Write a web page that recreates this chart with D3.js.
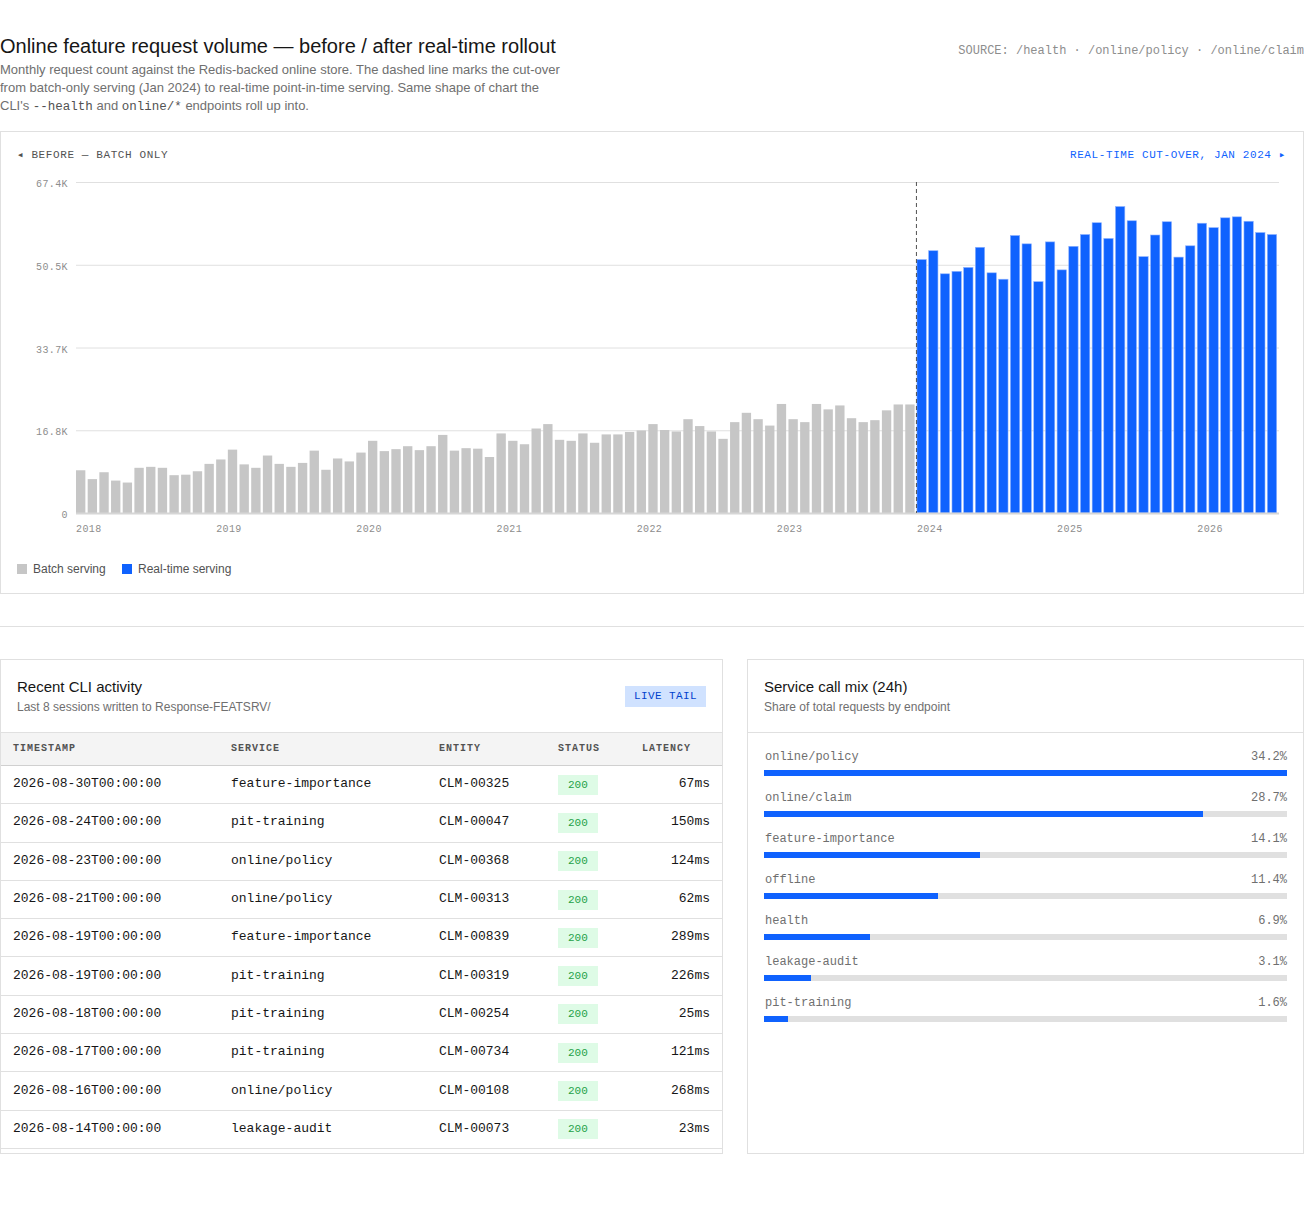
<!DOCTYPE html>
<html>
<head>
<meta charset="utf-8">
<script src="https://cdn.jsdelivr.net/npm/d3@7"></script>
<style>
  body { margin: 0; background: #fff; font-family: "Liberation Sans", Arial, sans-serif; color: #161616; }
  #page { position: relative; width: 1304px; height: 1219px; overflow: hidden; }
  .mono { font-family: "Liberation Mono", monospace; }
  .abs { position: absolute; }
  .panel { position: absolute; box-sizing: border-box; border: 1px solid #e0e0e0; background: #fff; overflow: hidden; }
  .phead { box-sizing: border-box; height: 73px; border-bottom: 1px solid #e0e0e0; position: relative; }
  .ptitle { position: absolute; left: 16px; top: 17px; font-size: 15px; line-height: 20px; }
  .psub { position: absolute; left: 16px; top: 39px; font-size: 12px; line-height: 16px; color: #6f6f6f; }
  .trow { display: flex; box-sizing: border-box; align-items: center; border-bottom: 1px solid #e0e0e0; }
  .trow > div { box-sizing: border-box; padding: 0 12px; white-space: nowrap; }
</style>
</head>
<body>
<div id="page"></div>
<script>
// ---- data ----
const batchValues = [
  8700, 6900, 8300, 6600, 6200, 9200, 9400, 9200, 7700, 7800, 8500, 10000,
  10900, 12900, 9900, 9200, 11700, 10000, 9400, 10200, 12700, 8800, 11100, 10500,
  12300, 14700, 12600, 13000, 13600, 12800, 13600, 15900, 12700, 13200, 13100, 11400,
  16200, 14700, 14000, 17200, 18100, 14900, 14700, 16200, 14300, 16000, 16000, 16500,
  16800, 18100, 16900, 16600, 19100, 17700, 16600, 15100, 18500, 20400, 19100, 17800,
  22200, 19100, 18500, 22200, 21100, 21900, 19300, 18500, 18900, 20900, 22100, 22100
];
const realtimeValues = [
  51600, 53400, 48700, 49200, 50000, 54100, 48900, 47600, 56500, 54800, 47100, 55200,
  49500, 54300, 56700, 59100, 55900, 62400, 59500, 52200, 56600, 59300, 52100, 54400,
  59000, 58100, 60100, 60300, 59400, 57100, 56700
];
const yearLabels = ["2018", "2019", "2020", "2021", "2022", "2023", "2024", "2025", "2026"];
const cutoverKey = "2024-01";
const seriesNames = ["Batch serving", "Real-time serving"];

const logRows = [
  ["2026-08-30T00:00:00", "feature-importance", "CLM-00325", "200", "67ms"],
  ["2026-08-24T00:00:00", "pit-training", "CLM-00047", "200", "150ms"],
  ["2026-08-23T00:00:00", "online/policy", "CLM-00368", "200", "124ms"],
  ["2026-08-21T00:00:00", "online/policy", "CLM-00313", "200", "62ms"],
  ["2026-08-19T00:00:00", "feature-importance", "CLM-00839", "200", "289ms"],
  ["2026-08-19T00:00:00", "pit-training", "CLM-00319", "200", "226ms"],
  ["2026-08-18T00:00:00", "pit-training", "CLM-00254", "200", "25ms"],
  ["2026-08-17T00:00:00", "pit-training", "CLM-00734", "200", "121ms"],
  ["2026-08-16T00:00:00", "online/policy", "CLM-00108", "200", "268ms"],
  ["2026-08-14T00:00:00", "leakage-audit", "CLM-00073", "200", "23ms"]
];
const logColumns = ["TIMESTAMP", "SERVICE", "ENTITY", "STATUS", "LATENCY"];

const mixNames = ["online/policy", "online/claim", "feature-importance", "offline", "health", "leakage-audit", "pit-training"];
const mixShares = [34.2, 28.7, 14.1, 11.4, 6.9, 3.1, 1.6];

// ---- colours ----
const BLUE = "#0f62fe";
const GREY = "#c6c6c6";

const page = d3.select("#page");

// ---- header ----
page.append("div").attr("class", "abs")
  .style("left", "0px").style("top", "34px")
  .style("font-size", "20px").style("line-height", "24px")
  .text("Online feature request volume — before / after real-time rollout");

page.append("div").attr("class", "abs")
  .style("left", "0px").style("top", "61px")
  .style("font-size", "13px").style("line-height", "18px").style("color", "#6f6f6f")
  .html("Monthly request count against the Redis-backed online store. The dashed line marks the cut-over<br>" +
        "from batch-only serving (Jan 2024) to real-time point-in-time serving. Same shape of chart the<br>" +
        "CLI's <span class='mono' style='font-size:12.5px;color:#525252'>--health</span> and " +
        "<span class='mono' style='font-size:12.5px;color:#525252'>online/*</span> endpoints roll up into.");

page.append("div").attr("class", "abs mono")
  .style("right", "0px").style("top", "43px")
  .style("font-size", "12px").style("line-height", "16px").style("color", "#8d8d8d")
  .style("white-space", "nowrap")
  .text("SOURCE: /health · /online/policy · /online/claim");

// ---- chart panel ----
const svg = page.append("svg").attr("class", "abs")
  .style("left", "0px").style("top", "0px")
  .attr("width", 1304).attr("height", 640);

svg.append("rect")
  .attr("x", 0.5).attr("y", 131.5).attr("width", 1303).attr("height", 462)
  .attr("fill", "none").attr("stroke", "#e0e0e0");

svg.append("line")
  .attr("x1", 0).attr("x2", 1304).attr("y1", 626.5).attr("y2", 626.5)
  .attr("stroke", "#e0e0e0");

svg.append("text").attr("class", "mono")
  .attr("x", 17).attr("y", 154).attr("dy", "0.35em")
  .attr("font-size", 11).attr("letter-spacing", "0.6px").attr("fill", "#525252")
  .text("◂ BEFORE — BATCH ONLY");

svg.append("text").attr("class", "mono")
  .attr("x", 1286).attr("y", 154).attr("dy", "0.35em").attr("text-anchor", "end")
  .attr("font-size", 11).attr("letter-spacing", "0.6px").attr("fill", BLUE)
  .text("REAL-TIME CUT-OVER, JAN 2024 ▸");

const months = d3.timeMonths(new Date(2018, 0, 1), new Date(2026, 7, 1));
const keyFmt = d3.timeFormat("%Y-%m");
const allValues = batchValues.concat(realtimeValues);
const bars = months.map((m, i) => ({
  key: keyFmt(m),
  value: allValues[i],
  realtime: i >= batchValues.length
}));

const plotLeft = 76, plotRight = 1279, plotTop = 182, plotBottom = 513;

const x = d3.scaleBand()
  .domain(bars.map(d => d.key))
  .range([plotLeft, plotRight])
  .padding(0);

const yMax = d3.max(allValues) * 1.08;
const yTicks = d3.range(5).map(i => yMax * i / 4);
const y = d3.scaleLinear().domain([0, yMax]).range([plotBottom, plotTop]);

const yAxis = svg.append("g")
  .attr("transform", `translate(${plotLeft},0)`)
  .call(d3.axisLeft(y)
    .tickValues(yTicks)
    .tickSize(-(plotRight - plotLeft))
    .tickPadding(8)
    .tickFormat(v => v === 0 ? "0" : (v / 1000).toFixed(1) + "K"));
yAxis.select(".domain").remove();
yAxis.selectAll(".tick line").attr("stroke", "#e0e0e0");
yAxis.selectAll(".tick text")
  .attr("class", "mono").attr("font-size", 10).attr("letter-spacing", "0.4px").attr("fill", "#8d8d8d")
  .attr("font-family", null).attr("dy", "0.45em");

const barW = x.bandwidth() * 0.8;
svg.append("g").selectAll("rect")
  .data(bars)
  .join("rect")
  .attr("x", d => x(d.key))
  .attr("y", d => y(d.value))
  .attr("width", barW)
  .attr("height", d => y(0) - y(d.value))
  .attr("fill", d => d.realtime ? BLUE : GREY)
  .attr("stroke", d => d.realtime ? "#8fb3ff" : "none")
  .attr("stroke-width", 0.6);

// baseline
svg.append("line")
  .attr("x1", plotLeft).attr("x2", plotRight)
  .attr("y1", y(0) + 0.5).attr("y2", y(0) + 0.5)
  .attr("stroke", "#d6d6d6").attr("stroke-width", 2);

// cut-over marker
svg.append("line")
  .attr("x1", x(cutoverKey) - 0.5).attr("x2", x(cutoverKey) - 0.5)
  .attr("y1", plotTop).attr("y2", plotBottom)
  .attr("stroke", "#525252").attr("stroke-dasharray", "4,3");

const xAxis = svg.append("g")
  .attr("transform", `translate(0,${plotBottom})`)
  .call(d3.axisBottom(x)
    .tickValues(yearLabels.map(yr => yr + "-01"))
    .tickSize(0)
    .tickPadding(12)
    .tickFormat(k => k.slice(0, 4)));
xAxis.select(".domain").remove();
xAxis.selectAll(".tick text")
  .attr("class", "mono").attr("font-family", null)
  .attr("x", -x.bandwidth() / 2).attr("text-anchor", "start")
  .attr("font-size", 10).attr("letter-spacing", "0.4px").attr("fill", "#8d8d8d");

// legend
const legend = svg.append("g").selectAll("g")
  .data(seriesNames)
  .join("g")
  .attr("transform", (d, i) => `translate(${i === 0 ? 17 : 122},564)`);
legend.append("rect").attr("width", 10).attr("height", 10)
  .attr("fill", (d, i) => i === 0 ? GREY : BLUE);
legend.append("text")
  .attr("x", 16).attr("y", 5).attr("dy", "0.35em")
  .attr("font-size", 12).attr("fill", "#525252")
  .text(d => d);

// ---- recent CLI activity ----
const left = page.append("div").attr("class", "panel")
  .style("left", "0px").style("top", "659px").style("width", "723px").style("height", "495px");
const lh = left.append("div").attr("class", "phead");
lh.append("div").attr("class", "ptitle").text("Recent CLI activity");
lh.append("div").attr("class", "psub").text("Last 8 sessions written to Response-FEATSRV/");
lh.append("div").attr("class", "abs mono")
  .style("left", "624px").style("top", "26px").style("width", "81px").style("height", "21px")
  .style("line-height", "21px").style("text-align", "center")
  .style("background", "#d0e2ff").style("color", "#0043ce")
  .style("font-size", "11px").style("letter-spacing", "0.4px")
  .text("LIVE TAIL");

const colWidths = [218, 208, 119, 84, 92];
const head = left.append("div").attr("class", "trow mono")
  .style("height", "33px").style("background", "#f4f4f4")
  .style("border-bottom", "1px solid #d0d0d0");
head.selectAll("div").data(logColumns).join("div")
  .style("width", (d, i) => colWidths[i] + "px")
  .style("font-size", "10px").style("font-weight", "bold").style("letter-spacing", "1px")
  .style("color", "#525252").style("margin-top", "-2px")
  .text(d => d);

const rows = left.selectAll("div.body-row").data(logRows).join("div")
  .attr("class", "trow mono body-row")
  .style("height", "38.3px");
rows.selectAll("div").data(d => d).join("div")
  .style("width", (d, i) => colWidths[i] + "px")
  .style("font-size", "13px")
  .style("margin-top", (d, i) => i === 3 ? "0px" : "-2px")
  .style("text-align", (d, i) => i === 4 ? "right" : "left")
  .each(function (d, i) {
    const cell = d3.select(this);
    if (i === 3) {
      cell.append("span")
        .style("display", "inline-block").style("height", "20px").style("line-height", "20px")
        .style("padding", "0 10px").style("background", "#defbe6").style("color", "#24a148")
        .style("font-size", "11px")
        .text(d);
    } else {
      cell.text(d);
    }
  });

// ---- service call mix ----
const right = page.append("div").attr("class", "panel")
  .style("left", "747px").style("top", "659px").style("width", "557px").style("height", "495px");
const rh = right.append("div").attr("class", "phead");
rh.append("div").attr("class", "ptitle").text("Service call mix (24h)");
rh.append("div").attr("class", "psub").text("Share of total requests by endpoint");

const trackW = 523;
const w = d3.scaleLinear().domain([0, d3.max(mixShares)]).range([0, trackW]);
const mix = right.append("div").style("padding", "16px 16px 0 16px");
const item = mix.selectAll("div.item").data(mixNames).join("div")
  .attr("class", "item").style("margin-bottom", "14px");
const lab = item.append("div").attr("class", "mono")
  .style("display", "flex").style("justify-content", "space-between")
  .style("font-size", "12px").style("line-height", "16px").style("color", "#6f6f6f")
  .style("width", trackW + "px");
lab.append("span").style("padding-left", "1px").text(d => d);
lab.append("span").text((d, i) => mixShares[i].toFixed(1) + "%");
const track = item.append("div")
  .style("margin-top", "5px").style("width", trackW + "px").style("height", "6px")
  .style("background", "#e0e0e0");
track.append("div")
  .style("height", "6px").style("background", BLUE)
  .style("width", (d, i) => w(mixShares[i]) + "px");
</script>
</body>
</html>
